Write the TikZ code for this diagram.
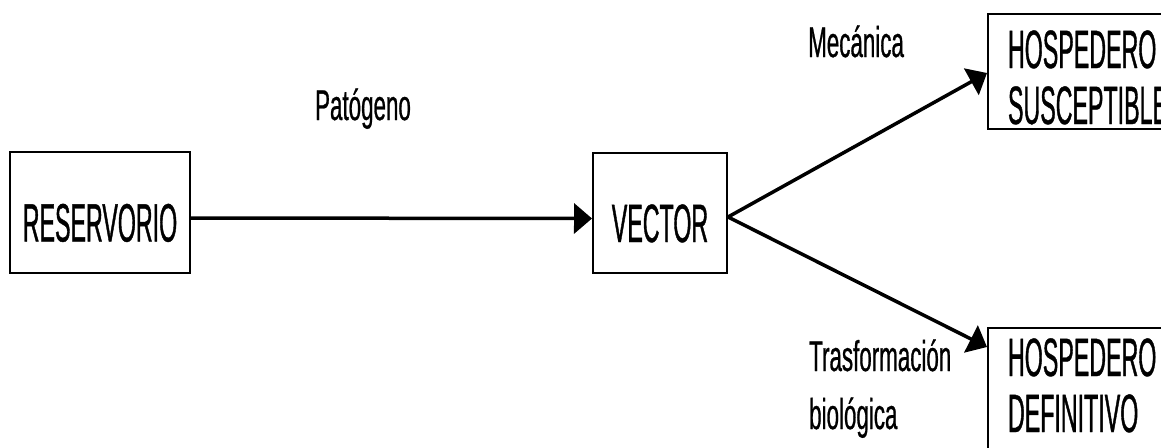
\documentclass[tikz,border=0pt]{standalone}
\usepackage{fontspec}
\setmainfont{Liberation Sans}
\newfontfamily\bigf{Liberation Sans}[FakeStretch=0.43,FakeBold=0.7]
\newfontfamily\smf{Liberation Sans}[FakeStretch=0.52,FakeBold=0.6]
\usetikzlibrary{arrows.meta}
\begin{document}
\begin{tikzpicture}[x=1pt,y=-1pt,
  box/.style={draw, line width=2pt, inner sep=0pt},
  bigtext/.style={font=\bigf\fontsize{54}{56}\selectfont},
  lbl/.style={font=\smf\fontsize{43}{58}\selectfont, inner sep=0pt},
  conn/.style={line width=3.5pt, -{Triangle[length=18pt,width=30pt]}}]
\useasboundingbox (0,0) rectangle (1161,447);

\node[box, bigtext, minimum width=180pt, minimum height=121pt,
      text height=58pt, text depth=0pt] (res) at (100,212.5) {RESERVORIO};
\node[box, bigtext, minimum width=134pt, minimum height=120pt,
      text height=58pt, text depth=0pt] (vec) at (660,213) {VECTOR};

\node[box, bigtext, anchor=north west, text width=175pt, align=left,
      inner xsep=20pt, inner ysep=0pt, text height=54pt, text depth=61pt]
      (hs) at (987,13) {HOSPEDERO\\SUSCEPTIBLE};
\node[box, bigtext, anchor=north west, text width=175pt, align=left,
      inner xsep=20pt, inner ysep=0pt, text height=48pt, text depth=150pt]
      (hd) at (987,327) {HOSPEDERO\\DEFINITIVO};

\node[lbl, anchor=base] (pat) at (363,120) {Patógeno};
\node[lbl, anchor=base west] (mec) at (808,57) {Mecánica};
\node[lbl, anchor=base west, text width=160pt, align=left] (tra) at (809,371)
      {Trasformación\\biológica};

\draw[conn] ([yshift=-5.5pt]res.east) -- ([yshift=-5.5pt]vec.west);
\draw[conn] ([yshift=-4pt]vec.east) -- ([yshift=-1.5pt]hs.west);
\draw[conn] ([yshift=-4pt]vec.east) -- ([yshift=-20pt]hd.north west);
\end{tikzpicture}
\end{document}
